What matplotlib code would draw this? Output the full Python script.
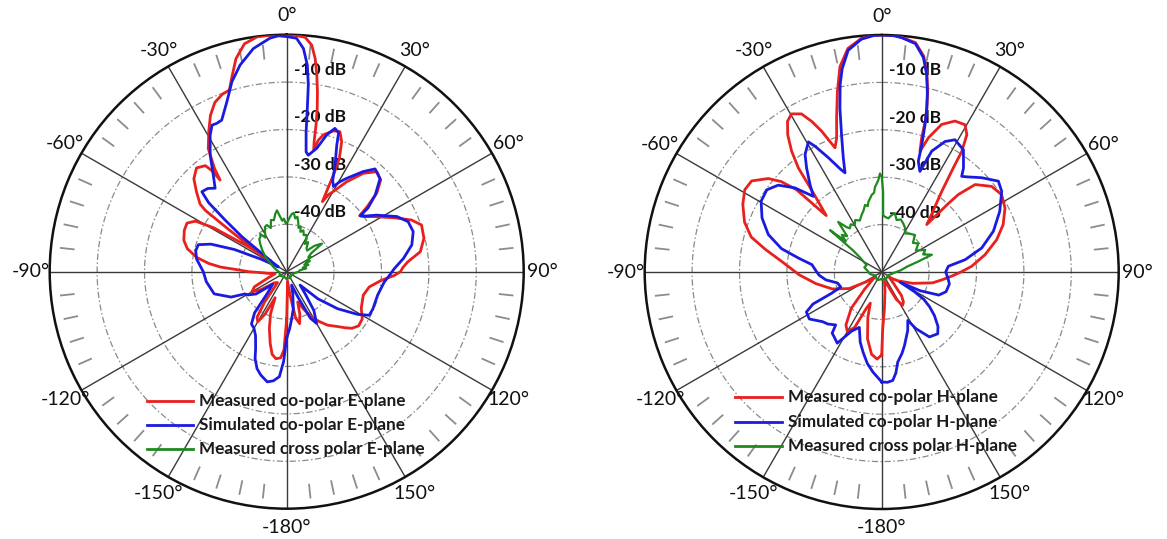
import numpy as np
import matplotlib
matplotlib.use("Agg")
import matplotlib.pyplot as plt
from matplotlib.lines import Line2D

plt.rcParams['font.family'] = ['Lato', 'DejaVu Sans']

# ---------------- E-plane patterns (angle in degrees, level in dB) ----------------
e_meas_deg = [-180, -178, -176, -173, -170, -167, -163, -159, -156, -153, -150, -147, -144, -140,
              -132, -125, -120, -115, -108, -100, -95, -92, -90, -88, -86, -84, -81, -77, -73, -68,
              -64, -61, -59, -57, -56, -55, -54, -53, -52, -48.5, -45, -41, -37.5, -36.5, -36, -35,
              -34, -32.5, -29, -26, -23, -20, -17.5, -15.7, -13.4, -10.5, -7, -4, -1, 2, 4.5, 6.3,
              7.6, 8.7, 9.7, 10.6, 11.3, 11.9, 12.5, 13.5, 15, 18.3, 20.8, 22.9, 24.9, 25.8, 26.4,
              27, 28.5, 30.2, 33.7, 37.9, 42, 45.7, 48.9, 51.1, 52.5, 54.5, 57.6, 63.1, 67.5, 70.9,
              76.3, 81.5, 85.4, 88, 90, 92, 95.3, 100.5, 107, 116, 122, 127, 131, 134, 138, 142.6,
              147, 151.7, 156, 160, 163, 166, 169, 172, 175, 178, 180]
e_meas_db = [-40, -33.5, -31.8, -31.5, -32.3, -34.5, -37.5, -40.5, -44, -40, -37.8, -38.5, -42, -47,
             -46.5, -43.5, -41.5, -42.5, -46, -47.5, -46, -44.5, -42, -40, -36, -33.5, -30.8, -28.5,
             -27.3, -26.7, -26.6, -28, -32, -40, -46, -40, -35, -28.5, -26.8, -24.6, -22.3, -21,
             -21.8, -23.5, -26.1, -23.5, -21.9, -19.2, -16.1, -13.3, -11.2, -10.2, -9.8, -7.3, -3.8,
             -1.1, 0, 0, 0, -0.1, -0.4, -1.9, -4.6, -8, -11.5, -15, -18.4, -21.9, -23.7, -21.5,
             -20.1, -18.7, -18.4, -20.2, -23.6, -27.3, -31, -33.4, -31.5, -30.4, -27.2, -23.7, -21.6,
             -22.3, -24.8, -28.2, -30.6, -30, -28.3, -24.8, -21.5, -19.9, -20.2, -21.5, -24.4, -25.5,
             -26, -27.3, -30, -32.3, -33.1, -32.5, -31.2, -31, -31.8, -33, -34.5, -35.8, -37.5,
             -39.2, -41.5, -43.2, -40.5, -38.7, -40, -45, -48, -46, -40]

e_sim_deg = [-180, -178, -176, -173, -170, -166, -163, -160, -158, -154, -150, -146, -142, -138,
             -132, -126, -121, -118, -114.5, -107, -97, -90, -82, -77, -73, -70, -67, -64, -60, -56,
             -52, -50, -48.5, -46.7, -43.5, -40.6, -36.5, -33.3, -29.3, -27, -25.2, -23.2, -19.4,
             -16.1, -12.7, -8.5, -4.1, -2, 0, 2.4, 4.3, 5.7, 6.6, 7.2, 7.9, 9.2, 10.5, 12, 13.7, 16.3,
             18.6, 20.5, 21.6, 24.4, 26.8, 28.8, 30.5, 32.7, 37.4, 40.7, 45.1, 49.1, 51.9, 52.8, 55,
             57.8, 63.4, 67.6, 72.4, 77.9, 83.5, 88.4, 92, 96, 104.6, 113.3, 117.8, 121, 126, 131, 135,
             140, 145, 150, 153, 156, 160, 165, 170, 174, 177, 180]
e_sim_db = [-36, -31, -27.8, -26.8, -26.4, -27.5, -28.6, -30.5, -32.5, -35, -36.2, -36.7, -39, -44,
            -46, -42, -40.5, -40, -37.1, -34, -32.9, -32.4, -30.8, -30.3, -30.5, -33, -38, -44, -48,
            -46, -38, -33, -28, -25.4, -25.8, -26.8, -23.8, -20.6, -17, -15.3, -15.4, -15.2, -12,
            -8.3, -5.3, -2.4, -0.6, -0.2, -0.4, -0.7, -2.8, -6.2, -10.3, -15.3, -20.2, -24.4, -25,
            -24.2, -23.2, -19.9, -18.1, -18.7, -21.3, -25.3, -28.5, -29.5, -28, -26.6, -23.4, -21.4,
            -22.2, -25.3, -28.2, -30.5, -29.5, -27.6, -24, -22.3, -22, -23, -25.2, -27.3, -28.3,
            -29.3, -30.2, -30.2, -30.3, -32.5, -36.7, -41.3, -46, -44, -40, -37.4, -39, -44, -47,
            -45, -42, -40, -38, -36]

e_cross_deg = [-180, -150, -120, -95, -80, -70, -62, -55, -48, -44, -40, -37, -35, -32, -29, -26,
               -23, -20, -17, -14, -11, -9, -7, -5, -3, -1, 1, 3, 5, 7, 9, 11, 13, 15, 17, 19, 22,
               25, 28, 31, 33, 36, 40, 44, 47, 50, 51.5, 53, 56, 59, 62, 65, 68, 72, 76, 80, 84, 90,
               100, 120, 150, 180]
e_cross_db = [-48.5, -48.8, -48.3, -48.5, -47.8, -47, -46, -44.5, -43, -42, -41, -40.8, -40.3, -41.5,
              -40.6, -39.5, -39.3, -40.2, -38.6, -38.8, -37.5, -36.9, -38.2, -39.2, -38.8, -39.8,
              -39.5, -38.6, -37.8, -37.5, -38.6, -38.2, -39.2, -40.4, -40, -41.1, -40.6, -41.5, -41.2,
              -41.8, -43, -42.3, -43.5, -43.8, -42, -41, -40.5, -43.5, -44.5, -44, -45.5, -44.6, -46,
              -45.2, -46.5, -45.8, -47.2, -47.5, -48.3, -48.8, -48.5, -48.5]

# ---------------- H-plane patterns (angle in degrees, level in dB) ----------------
h_meas_deg = [-180, -177, -173, -168, -163, -160, -157, -154, -150, -146, -140, -135, -128, -122,
              -117, -109, -100, -92, -84, -79, -75, -70, -64, -59, -55, -50.5, -48, -46, -44.5, -42,
              -40, -38.7, -36.7, -34.4, -32, -29.7, -26.9, -24.9, -23.1, -20.6, -18.6, -16.3, -13.8,
              -11.5, -8.6, -4.9, -2, 0, 3, 4.9, 8.4, 11, 12.8, 14.3, 15.4, 16.1, 16.6, 17.6, 19.2,
              22.1, 25.9, 29.5, 31.8, 33.6, 34.5, 36.7, 39, 41, 43.5, 44.2, 44.7, 46.9, 52.1, 57.2,
              62.6, 68.7, 74.3, 80.5, 86.4, 90, 93, 97, 102, 110, 118, 126, 134, 140, 144, 148, 152,
              156, 163, 170, 176, 179, 180]
h_meas_db = [-32.5, -31.6, -32.5, -35.6, -40, -43, -41.6, -37, -35.5, -36.5, -40, -45, -48, -46,
             -42.3, -39, -35.9, -32.6, -28.8, -25, -21.5, -19.2, -17.4, -16.3, -16.5, -19, -21.5, -25,
             -33.3, -30, -26, -21.9, -18.2, -14.9, -12.5, -11.6, -12.6, -15, -17.7, -22, -20.2, -16.1,
             -10.8, -5.8, -2.3, -0.5, 0, 0, 0, -0.3, -1.1, -3.6, -7, -10.7, -14.1, -16.9, -20.5,
             -23.3, -20, -16.4, -14.6, -14.3, -15.9, -19.5, -23.3, -28.8, -32, -34, -36.2, -30, -27,
             -23, -20.6, -19.9, -20.7, -22.5, -24.8, -27.9, -31, -33.3, -35, -37, -39, -43, -46, -48,
             -46.5, -43.5, -42.2, -41.7, -43.5, -47, -48, -46, -42, -38, -32.5]

h_sim_deg = [-180, -175, -171, -167, -163, -158, -153, -148, -144, -141, -139, -134, -130, -123,
             -118, -115, -113, -110, -104, -98, -93, -90, -84, -80.5, -76.9, -71.7, -65.7, -59.6,
             -54.4, -50, -45.9, -42.1, -39.4, -35.8, -33.1, -29.4, -27.9, -25, -22, -20.3, -18.6,
             -16.3, -14.3, -12.5, -11, -8.6, -5, -2, 0, 3, 4.9, 8.4, 11, 12.8, 14.3, 15.5, 16.4, 17.5,
             18.3, 20.8, 22.5, 25.9, 29, 33.8, 38.2, 39.9, 42, 46.7, 52.1, 56.1, 62.8, 69.9, 76.5,
             81.6, 85.1, 90, 95, 100, 107, 112, 116, 119, 121, 123, 126, 129.5, 134, 137.8, 143.7,
             148.8, 151.7, 156, 162.7, 166, 169.9, 172, 174.2, 177, 180]
h_sim_db = [-26.8, -28.8, -30.5, -32.6, -34.5, -37.4, -36, -32.3, -33, -33.4, -35.2, -34.2, -33.7,
            -31.8, -32, -34, -38.5, -40.8, -40.4, -38.1, -36.8, -36.3, -35.2, -32.2, -28.3, -24.8,
            -22.3, -20.5, -20.2, -21.5, -24.5, -28.5, -26.2, -22.9, -20.4, -18.5, -20, -23.4, -26.5,
            -27.7, -24.6, -19.8, -14.3, -9.5, -6.3, -2.7, -0.7, -0.1, 0, -0.1, -0.4, -1.3, -3.9, -7.2,
            -11, -14.5, -17.6, -21.9, -25.4, -27.3, -22.4, -19.4, -18.1, -19, -22.1, -23.7, -23, -21,
            -18.8, -19.5, -22, -24.9, -28.3, -32.2, -35.9, -36.5, -36, -35.5, -35.8, -37, -41, -45.5,
            -42, -39.4, -37.5, -35.6, -33.5, -32.4, -33, -36, -38.4, -36.5, -33.8, -32.3, -30.7,
            -28.5, -27, -26.7, -26.8]

h_cross_deg = [-180, -150, -120, -100, -85, -75, -65, -60, -56, -53, -51, -49.5, -47, -44, -41, -38,
               -36, -33, -30, -27, -23, -19.3, -16.5, -13.9, -12, -10.7, -9, -7.4, -5.5, -4.5, -3.2,
               -2, -1, 0, 1, 1.5, 3, 7, 10, 12.7, 16, 20, 24, 28, 31, 36, 42, 47, 52, 58, 63, 67, 71,
               74, 78, 85, 95, 120, 150, 180]
h_cross_db = [-48.5, -48, -48.5, -47.5, -47, -46.2, -46.5, -45.5, -44.4, -42.4, -36, -40, -38.5,
              -39.5, -36, -38, -38.6, -38, -38.6, -37.7, -38.2, -37.2, -36.5, -35.4, -35.8, -34.9,
              -34.3, -33.6, -33.2, -32, -31.3, -30.5, -29.2, -29.9, -33, -38, -38.3, -38.6, -37.8,
              -37.3, -38.6, -38.2, -38.8, -39.5, -40.5, -40, -39.5, -41, -40.2, -41.5, -39.7, -40.5,
              -38.8, -42, -44.5, -46, -47.5, -48.5, -48.2, -48.5]

# ---------------- labels ----------------
angle_ticks = [0, 30, 60, 90, 120, 150, 180, -150, -120, -90, -60, -30]
angle_labels = ['0°', '30°', '60°', '90°', '120°', '150°', '-180°', '-150°', '-120°', '-90°',
                '-60°', '-30°']
ring_levels = [-10, -20, -30, -40]
ring_labels = ['-10 dB', '-20 dB', '-30 dB', '-40 dB']
series_colors = ['#E8201E', '#1B1BE0', '#1E8A1E']
e_legend = ['Measured co-polar E-plane', 'Simulated co-polar E-plane', 'Measured cross polar E-plane']
h_legend = ['Measured co-polar H-plane', 'Simulated co-polar H-plane', 'Measured cross polar H-plane']

W, H = 1167, 539
R_PX = 237.0
fig = plt.figure(figsize=(W / 100, H / 100), dpi=100)
fig.patch.set_facecolor('white')


def make_axes(cx, cy):
    rect = [(cx - R_PX) / W, (H - cy - R_PX) / H, 2 * R_PX / W, 2 * R_PX / H]
    ax = fig.add_axes(rect, projection='polar')
    ax.set_theta_zero_location('N')
    ax.set_theta_direction(-1)
    ax.set_ylim(-50, 0)
    ax.set_xticks([])
    ax.set_yticks([])
    ax.grid(False)
    ax.spines['polar'].set_linewidth(1.8)
    ax.spines['polar'].set_color('#111111')
    ax.set_facecolor('white')
    return ax


def draw_frame(ax):
    full = np.linspace(0, 2 * np.pi, 721)
    for lev in ring_levels:
        ax.plot(full, np.full_like(full, lev), color='#8a8a8a', lw=0.9,
                ls=(0, (5, 2, 1.2, 2)), zorder=1)
    for a in range(0, 360, 30):
        t = np.deg2rad(a)
        ax.plot([t, t], [-50, 0], color='#3a3a3a', lw=1.0, zorder=1.2)
    for a in range(0, 360, 6):
        if a % 30 == 0:
            continue
        t = np.deg2rad(a)
        ax.plot([t, t], [-5.0, -1.9], color='#8c8c8c', lw=1.3, zorder=1.1,
                solid_capstyle='butt')
    k = 1.08
    for a, lab in zip(angle_ticks, angle_labels):
        t = np.deg2rad(a)
        ax.text(0.5 + 0.5 * k * np.sin(t), 0.5 + 0.5 * k * np.cos(t), lab,
                transform=ax.transAxes, ha='center', va='center', fontsize=14,
                color='#111111')
    for lev, lab in zip(ring_levels, ring_labels):
        r_norm = (lev + 50) / 50.0
        ax.text(0.5 + 7 / (2 * R_PX), 0.5 + (r_norm * R_PX + 12) / (2 * R_PX), lab,
                transform=ax.transAxes, ha='left', va='center', fontsize=12.5,
                fontweight='bold', color='#111111', zorder=1.5)


def draw_curves(ax, series):
    widths = [2.0, 2.0, 1.6]
    order = [1, 0, 2]
    for i in order:
        deg, db = series[i]
        ax.plot(np.deg2rad(deg), np.clip(db, -50, 0), color=series_colors[i],
                lw=widths[i], zorder=3 + i * 0.1, solid_joinstyle='round')


def draw_legend(x_line0, x_line1, x_text, rows_y, labels):
    for y, lab, col in zip(rows_y, labels, series_colors):
        fy = 1 - y / H
        fig.add_artist(Line2D([x_line0 / W, x_line1 / W], [fy, fy], color=col, lw=2.0,
                              transform=fig.transFigure))
        fig.text(x_text / W, fy, lab, ha='left', va='center', fontsize=12.3,
                 fontweight='bold', color='#1a1a1a')


ax_e = make_axes(286.7, 271.7)
draw_frame(ax_e)
draw_curves(ax_e, [(e_meas_deg, e_meas_db), (e_sim_deg, e_sim_db), (e_cross_deg, e_cross_db)])

ax_h = make_axes(881.7, 272.0)
draw_frame(ax_h)
draw_curves(ax_h, [(h_meas_deg, h_meas_db), (h_sim_deg, h_sim_db), (h_cross_deg, h_cross_db)])

draw_legend(147, 193, 199, [401, 425, 449], e_legend)
draw_legend(735, 782, 788, [397, 422, 446], h_legend)

fig.savefig('out.png', dpi=100, facecolor='white')
